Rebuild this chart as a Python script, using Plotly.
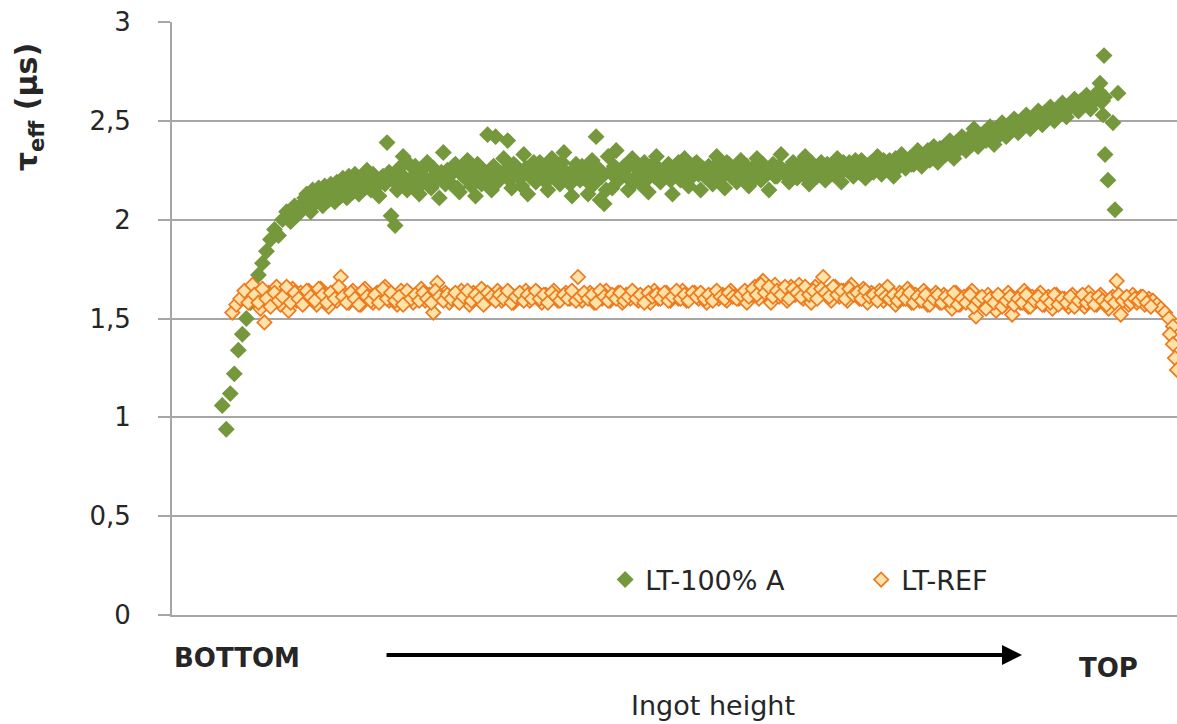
import plotly.graph_objects as go

# ---------------- data ----------------
# positions along the ingot (0 = left edge of plot, 100 = right edge)
# two interleaved measurement rows per series, each sampled every 0.4
lt100_start = 5.0
lt100_b_start = 13.2
ref_start = 6.0
ref_b_start = 8.2
sample_step = 0.4

lt100_values = [
    1.06, 0.94, 1.12, 1.22, 1.34, 1.42, 1.50, 1.58, 1.66, 1.72,
    1.78, 1.84, 1.90, 1.95, 1.92, 2.00, 2.04, 1.99, 2.07, 2.03,
    2.08, 2.13, 2.04, 2.10, 2.16, 2.07, 2.12, 2.18, 2.09, 2.14,
    2.21, 2.11, 2.17, 2.23, 2.13, 2.19, 2.25, 2.15, 2.20, 2.12,
    2.22, 2.39, 2.02, 1.97, 2.26, 2.32, 2.15, 2.21, 2.27, 2.13,
    2.19, 2.29, 2.16, 2.23, 2.11, 2.34, 2.25, 2.18, 2.28, 2.14,
    2.22, 2.30, 2.17, 2.12, 2.26, 2.20, 2.43, 2.15, 2.42, 2.24,
    2.31, 2.40, 2.16, 2.27, 2.21, 2.33, 2.13, 2.25, 2.19, 2.29,
    2.22, 2.15, 2.31, 2.26, 2.18, 2.34, 2.23, 2.12, 2.28, 2.20,
    2.26, 2.13, 2.30, 2.42, 2.10, 2.08, 2.32, 2.16, 2.35, 2.21,
    2.27, 2.15, 2.31, 2.22, 2.18, 2.29, 2.14, 2.25, 2.32, 2.19,
    2.23, 2.28, 2.13, 2.26, 2.20, 2.31, 2.17, 2.24, 2.29, 2.15,
    2.22, 2.27, 2.18, 2.32, 2.21, 2.16, 2.28, 2.24, 2.19, 2.30,
    2.23, 2.17, 2.26, 2.31, 2.20, 2.25, 2.15, 2.28, 2.22, 2.33,
    2.24, 2.19, 2.29, 2.21, 2.26, 2.32, 2.18, 2.25, 2.22, 2.29,
    2.20, 2.27, 2.23, 2.31, 2.19, 2.26, 2.29, 2.22, 2.25, 2.30,
    2.21, 2.28, 2.24, 2.32, 2.23, 2.27, 2.30, 2.22, 2.29, 2.33,
    2.26, 2.31, 2.28, 2.35, 2.27, 2.33, 2.30, 2.37, 2.29, 2.36,
    2.33, 2.40, 2.31, 2.38, 2.42, 2.35, 2.40, 2.46, 2.37, 2.43,
    2.40, 2.47, 2.38, 2.45, 2.49, 2.42, 2.47, 2.51, 2.44, 2.49,
    2.53, 2.46, 2.51, 2.55, 2.48, 2.53, 2.57, 2.50, 2.55, 2.59,
    2.52, 2.57, 2.61, 2.55, 2.59, 2.63, 2.56, 2.61, 2.65, 2.60,
]
lt100_values_b = [
    2.11, 2.06, 2.15, 2.09, 2.12, 2.17, 2.10, 2.14, 2.19, 2.12,
    2.16, 2.22, 2.14, 2.18, 2.21, 2.16, 2.20, 2.23, 2.17, 2.21,
    2.18, 2.24, 2.20, 2.15, 2.23, 2.19, 2.28, 2.17, 2.22, 2.25,
    2.21, 2.17, 2.26, 2.20, 2.24, 2.18, 2.22, 2.27, 2.16, 2.23,
    2.26, 2.19, 2.23, 2.28, 2.18, 2.24, 2.21, 2.27, 2.19, 2.22,
    2.25, 2.20, 2.28, 2.23, 2.17, 2.26, 2.22, 2.29, 2.21, 2.24,
    2.19, 2.27, 2.23, 2.20, 2.29, 2.24, 2.18, 2.25, 2.22, 2.27,
    2.20, 2.24, 2.18, 2.26, 2.22, 2.15, 2.24, 2.27, 2.20, 2.25,
    2.22, 2.28, 2.19, 2.25, 2.23, 2.20, 2.27, 2.22, 2.26, 2.21,
    2.26, 2.20, 2.24, 2.29, 2.22, 2.25, 2.21, 2.28, 2.23, 2.26,
    2.24, 2.21, 2.27, 2.23, 2.26, 2.29, 2.22, 2.25, 2.27, 2.23,
    2.27, 2.24, 2.21, 2.26, 2.28, 2.23, 2.26, 2.22, 2.27, 2.25,
    2.22, 2.27, 2.25, 2.28, 2.23, 2.26, 2.29, 2.24, 2.27, 2.25,
    2.28, 2.24, 2.26, 2.23, 2.29, 2.25, 2.27, 2.30, 2.24, 2.27,
    2.26, 2.29, 2.27, 2.25, 2.30, 2.28, 2.26, 2.31, 2.27, 2.29,
    2.30, 2.28, 2.33, 2.30, 2.32, 2.35, 2.31, 2.34, 2.36, 2.33,
    2.37, 2.35, 2.39, 2.36, 2.38, 2.41, 2.38, 2.42, 2.40, 2.44,
    2.42, 2.44, 2.46, 2.43, 2.47, 2.45, 2.49, 2.46, 2.48, 2.51,
    2.49, 2.51, 2.53, 2.50, 2.54, 2.52, 2.55, 2.53, 2.57, 2.55,
    2.57, 2.59, 2.56, 2.60, 2.58, 2.61, 2.59, 2.63, 2.60, 2.62,
]
lt100_tail_pos = [92.34, 92.74, 92.64, 92.84, 93.13, 93.63, 93.83, 94.13]
lt100_tail_values = [2.69, 2.83, 2.53, 2.33, 2.20, 2.49, 2.05, 2.64]

ref_values = [
    1.53, 1.57, 1.60, 1.64, 1.58, 1.67, 1.62, 1.55, 1.48, 1.63,
    1.60, 1.66, 1.57, 1.62, 1.54, 1.65, 1.59, 1.63, 1.58, 1.64,
    1.61, 1.57, 1.65, 1.60, 1.56, 1.63, 1.59, 1.71, 1.62, 1.58,
    1.64, 1.60, 1.57, 1.65, 1.61, 1.58, 1.63, 1.60, 1.66, 1.59,
    1.62, 1.57, 1.64, 1.60, 1.63, 1.58, 1.61, 1.65, 1.59, 1.62,
    1.53, 1.68, 1.60, 1.63, 1.58, 1.62, 1.59, 1.64, 1.61, 1.57,
    1.63, 1.60, 1.65, 1.58, 1.62, 1.60, 1.64, 1.59, 1.61, 1.63,
    1.58, 1.62, 1.60, 1.64, 1.59, 1.61, 1.63, 1.58, 1.62, 1.60,
    1.64, 1.59, 1.61, 1.63, 1.60, 1.62, 1.71, 1.59, 1.61, 1.63,
    1.58, 1.62, 1.60, 1.64, 1.59, 1.61, 1.63, 1.58, 1.62, 1.60,
    1.63, 1.59, 1.61, 1.62, 1.58, 1.64, 1.60, 1.61, 1.63, 1.59,
    1.62, 1.60, 1.64, 1.59, 1.61, 1.63, 1.60, 1.62, 1.58, 1.61,
    1.63, 1.60, 1.62, 1.59, 1.64, 1.61, 1.60, 1.63, 1.58, 1.62,
    1.66, 1.60, 1.69, 1.63, 1.58, 1.67, 1.61, 1.65, 1.59, 1.66,
    1.62, 1.67, 1.60, 1.64, 1.58, 1.66, 1.62, 1.71, 1.63, 1.59,
    1.66, 1.61, 1.64, 1.59, 1.67, 1.62, 1.60, 1.65, 1.58, 1.63,
    1.60, 1.64, 1.59, 1.66, 1.61, 1.57, 1.63, 1.60, 1.65, 1.58,
    1.62, 1.59, 1.64, 1.57, 1.61, 1.63, 1.58, 1.62, 1.60, 1.55,
    1.63, 1.57, 1.61, 1.59, 1.64, 1.51, 1.60, 1.56, 1.62, 1.58,
    1.54, 1.61, 1.57, 1.63, 1.52, 1.60, 1.58, 1.64, 1.56, 1.61,
    1.59, 1.63, 1.57, 1.61, 1.55, 1.62, 1.58, 1.60, 1.56, 1.62,
    1.58, 1.61, 1.56, 1.63, 1.59, 1.57, 1.62, 1.58, 1.55, 1.61,
    1.69, 1.52, 1.60, 1.57, 1.62, 1.58, 1.61, 1.57, 1.60, 1.59,
    1.57, 1.55, 1.53, 1.50, 1.46,
]
ref_values_b = [
    1.62, 1.58, 1.65, 1.60, 1.56, 1.63, 1.59, 1.61, 1.66, 1.58,
    1.63, 1.60, 1.57, 1.64, 1.61, 1.59, 1.65, 1.62, 1.58, 1.63,
    1.60, 1.66, 1.61, 1.58, 1.63, 1.60, 1.57, 1.64, 1.61, 1.59,
    1.62, 1.58, 1.65, 1.60, 1.63, 1.59, 1.61, 1.57, 1.64, 1.60,
    1.62, 1.59, 1.63, 1.60, 1.58, 1.64, 1.61, 1.59, 1.62, 1.60,
    1.63, 1.58, 1.61, 1.64, 1.59, 1.62, 1.60, 1.57, 1.63, 1.61,
    1.59, 1.62, 1.60, 1.64, 1.58, 1.61, 1.63, 1.59, 1.62, 1.60,
    1.64, 1.60, 1.62, 1.58, 1.63, 1.61, 1.59, 1.62, 1.60, 1.64,
    1.59, 1.61, 1.63, 1.60, 1.62, 1.58, 1.64, 1.61, 1.59, 1.62,
    1.60, 1.63, 1.59, 1.61, 1.64, 1.60, 1.62, 1.58, 1.63, 1.61,
    1.62, 1.60, 1.63, 1.59, 1.61, 1.64, 1.60, 1.62, 1.59, 1.63,
    1.61, 1.63, 1.60, 1.62, 1.59, 1.64, 1.61, 1.60, 1.63, 1.61,
    1.60, 1.62, 1.64, 1.61, 1.65, 1.62, 1.67, 1.63, 1.66, 1.61,
    1.64, 1.62, 1.66, 1.60, 1.65, 1.63, 1.61, 1.66, 1.62, 1.64,
    1.60, 1.65, 1.63, 1.61, 1.66, 1.62, 1.64, 1.60, 1.65, 1.62,
    1.63, 1.60, 1.64, 1.61, 1.62, 1.59, 1.63, 1.61, 1.60, 1.62,
    1.59, 1.62, 1.60, 1.63, 1.58, 1.61, 1.59, 1.62, 1.57, 1.60,
    1.62, 1.58, 1.61, 1.59, 1.63, 1.57, 1.60, 1.58, 1.62, 1.56,
    1.59, 1.61, 1.55, 1.60, 1.58, 1.62, 1.56, 1.59, 1.61, 1.57,
    1.60, 1.58, 1.62, 1.56, 1.59, 1.61, 1.57, 1.60, 1.58, 1.62,
    1.57, 1.60, 1.58, 1.61, 1.56, 1.59, 1.62, 1.58, 1.60, 1.57,
    1.61, 1.59, 1.57, 1.60, 1.58, 1.62, 1.59, 1.61, 1.58, 1.60,
    1.59, 1.61, 1.58, 1.56,
]
ref_tail_pos = [99.3, 99.6, 99.8, 100.0]
ref_tail_values = [1.42, 1.37, 1.30, 1.24]

series_names = ["LT-100% A", "LT-REF"]
y_tick_vals = [0, 0.5, 1, 1.5, 2, 2.5, 3]
y_tick_text = ["0", "0,5", "1", "1,5", "2", "2,5", "3"]

# ---------------- figure ----------------
FONT = "DejaVu Sans"
GREEN = "#74983B"
ORANGE = "#EE7A1E"
ORANGE_FILL = "#FFE2A8"
GRID = "#A6A6A6"
TEXT = "#262626"


def positions(start, n):
    return [round(start + sample_step * i, 2) for i in range(n)]


lt100_pos = (positions(lt100_start, len(lt100_values))
             + positions(lt100_b_start, len(lt100_values_b)) + lt100_tail_pos)
lt100_all = lt100_values + lt100_values_b + lt100_tail_values
ref_pos = (positions(ref_start, len(ref_values))
           + positions(ref_b_start, len(ref_values_b)) + ref_tail_pos)
ref_all = ref_values + ref_values_b + ref_tail_values

fig = go.Figure()
fig.add_trace(go.Scatter(
    x=lt100_pos, y=lt100_all, mode="markers", name=series_names[0],
    marker=dict(symbol="diamond", size=13, color=GREEN, line=dict(width=0)),
))
fig.add_trace(go.Scatter(
    x=ref_pos, y=ref_all, mode="markers", name=series_names[1],
    marker=dict(symbol="diamond", size=11, color=ORANGE_FILL,
                line=dict(width=1.7, color=ORANGE)),
))

fig.update_layout(
    width=1177, height=724,
    margin=dict(l=172, r=0, t=22, b=109, pad=0, autoexpand=False),
    paper_bgcolor="white", plot_bgcolor="white",
    font=dict(family=FONT, color=TEXT),
    showlegend=True,
    legend=dict(
        orientation="h", x=0.431, xanchor="left", y=0.059, yanchor="middle",
        font=dict(size=27, color=TEXT, family=FONT),
        entrywidth=211, entrywidthmode="pixels",
        bgcolor="rgba(0,0,0,0)", borderwidth=0,
    ),
    xaxis=dict(
        range=[0, 100], showgrid=False, zeroline=False, showticklabels=False,
        ticks="", showline=True, linecolor=GRID, linewidth=2,
        fixedrange=True,
    ),
    yaxis=dict(
        range=[0, 3], tickvals=y_tick_vals, ticktext=y_tick_text,
        showgrid=True, gridcolor=GRID, gridwidth=2, zeroline=False,
        showline=True, linecolor=GRID, linewidth=2,
        ticks="outside", ticklen=12, tickwidth=2, tickcolor=GRID,
        tickfont=dict(size=26, color=TEXT, family=FONT),
        ticklabelstandoff=22,
    ),
)

annotations = [
    dict(text="<b>τ<sub>eff</sub> (µs)</b>", xref="paper", yref="paper",
         x=-0.142, y=0.857, xanchor="center", yanchor="middle",
         textangle=-90, showarrow=False,
         font=dict(size=30, color=TEXT, family=FONT)),
    dict(text="<b>BOTTOM</b>", xref="paper", yref="paper",
         x=0.0, y=-0.072, xanchor="left", yanchor="middle", showarrow=False,
         font=dict(size=26, color=TEXT, family=FONT)),
    dict(text="<b>TOP</b>", xref="paper", yref="paper",
         x=0.9, y=-0.089, xanchor="left", yanchor="middle", showarrow=False,
         font=dict(size=26, color=TEXT, family=FONT)),
    dict(text="Ingot height", xref="paper", yref="paper",
         x=0.538, y=-0.152, xanchor="center", yanchor="middle", showarrow=False,
         font=dict(size=27, color=TEXT, family=FONT)),
    dict(text="", xref="paper", yref="paper", x=0.8458, y=-0.0675,
         axref="pixel", ayref="pixel", ax=-637, ay=0,
         showarrow=True, arrowhead=2, arrowsize=1, arrowwidth=4,
         arrowcolor="black", standoff=0, startstandoff=0),
]
fig.update_layout(annotations=annotations)

fig.write_html("out.html")
